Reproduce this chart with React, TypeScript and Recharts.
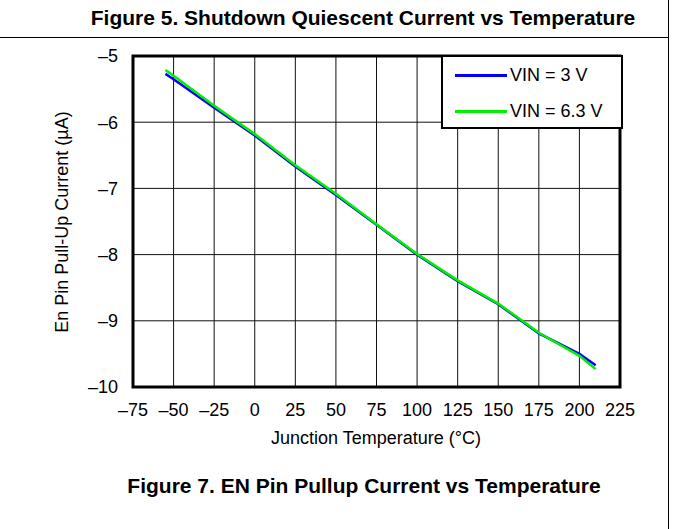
import React from 'react'
import {
  LineChart, Line, XAxis, YAxis, CartesianGrid, ReferenceArea, Label,
} from 'recharts'

const temps = [-55, -50, -25, 0, 25, 50, 75, 100, 125, 150, 175, 200, 210]
const vin3 = [-5.27, -5.35, -5.78, -6.2, -6.67, -7.1, -7.55, -8.0, -8.4, -8.75, -9.19, -9.5, -9.67]
const vin63 = [-5.21, -5.3, -5.75, -6.18, -6.65, -7.08, -7.54, -7.99, -8.39, -8.74, -9.18, -9.53, -9.73]
const xTicks = [-75, -50, -25, 0, 25, 50, 75, 100, 125, 150, 175, 200, 225]
const yTicks = [-10, -9, -8, -7, -6, -5]
const seriesNames = ['VIN = 3 V', 'VIN = 6.3 V']

const FONT = '"Liberation Sans", Arial, Helvetica, sans-serif'
const BLUE = '#0000ff'
const GREEN = '#00ee00'
const dash = (v: number) => String(v).replace('-', '–')

const data = temps.map((t, i) => ({ t, a: vin3[i], b: vin63[i] }))

function LegendBox() {
  const row = (color: string, text: string) => (
    <div style={{ display: 'flex', alignItems: 'center', height: 36 }}>
      <span style={{ display: 'inline-block', width: 52, height: 3, background: color, marginLeft: 12, marginRight: 3 }} />
      <span>{text}</span>
    </div>
  )
  return (
    <div style={{
      position: 'absolute', left: 441, top: 55,
      width: 178, height: 70, border: '2px solid #000', background: '#fff',
      fontFamily: FONT, fontSize: 18, color: '#000',
    }}>
      {row(BLUE, seriesNames[0])}
      {row(GREEN, seriesNames[1])}
    </div>
  )
}

export default function App() {
  return (
    <div style={{ position: 'absolute', left: 0, top: 0, width: 673, height: 529, background: '#fff', fontFamily: FONT }}>
      <div style={{ position: 'absolute', left: 0, top: 37, width: 669, borderTop: '1.5px solid #000' }} />
      <div style={{ position: 'absolute', left: 668, top: 0, height: 529, borderLeft: '1.5px solid #000' }} />
      <div style={{ position: 'absolute', left: 0, width: 726, top: 6, textAlign: 'center', fontSize: 21, fontWeight: 'bold' }}>
        Figure 5. Shutdown Quiescent Current vs Temperature
      </div>
      <div style={{ position: 'absolute', left: 0, width: 728, top: 474, textAlign: 'center', fontSize: 21, fontWeight: 'bold' }}>
        Figure 7. EN Pin Pullup Current vs Temperature
      </div>
      <LineChart
        width={673}
        height={529}
        data={data}
        margin={{ top: 56, right: 53, left: 40, bottom: 92 }}
        style={{ position: 'absolute', left: 0, top: 0 }}
      >
        <CartesianGrid stroke="#111" strokeWidth={1} />
        <XAxis
          dataKey="t"
          type="number"
          domain={[-75, 225]}
          ticks={xTicks}
          tickFormatter={dash}
          axisLine={false}
          tickLine={false}
          tickSize={0}
          tickMargin={16}
          height={50}
          tick={{ fontSize: 18, fill: '#000', fontFamily: FONT }}
          interval={0}
        >
          <Label
            content={() => (
              <text x={376} y={444} textAnchor="middle" fontSize={18} fontFamily={FONT} fill="#000">
                Junction Temperature (°C)
              </text>
            )}
          />
        </XAxis>
        <YAxis
          type="number"
          domain={[-10, -5]}
          ticks={yTicks}
          tickFormatter={dash}
          axisLine={false}
          tickLine={false}
          tickSize={0}
          tickMargin={15}
          width={93}
          tick={{ fontSize: 18, fill: '#000', fontFamily: FONT }}
          interval={0}
        >
          <Label
            content={() => (
              <text x={68} y={222} transform="rotate(-90 68 222)" textAnchor="middle" fontSize={18} fontFamily={FONT} fill="#000">
                En Pin Pull-Up Current (µA)
              </text>
            )}
          />
        </YAxis>
        <ReferenceArea x1={-75} x2={225} y1={-10} y2={-5} fill="none" stroke="#000" strokeWidth={3} ifOverflow="visible" />
        <Line dataKey="a" name={seriesNames[0]} stroke={BLUE} strokeWidth={2.5} dot={false} isAnimationActive={false} />
        <Line dataKey="b" name={seriesNames[1]} stroke={GREEN} strokeWidth={2.5} dot={false} isAnimationActive={false} />
      </LineChart>
      <LegendBox />
    </div>
  )
}
